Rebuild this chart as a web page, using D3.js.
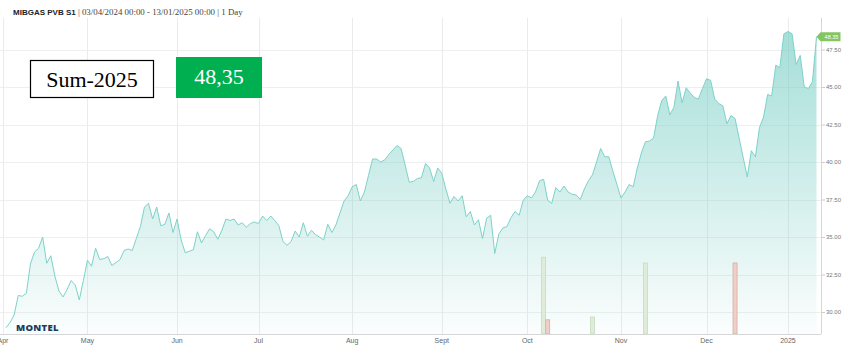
<!DOCTYPE html>
<html><head><meta charset="utf-8">
<script src="https://cdn.jsdelivr.net/npm/d3@7"></script>
<style>
html,body{margin:0;padding:0;background:#fff;overflow:hidden;}
svg{display:block;}
</style></head>
<body>
<svg id="c" width="849" height="353"></svg>
<script>
// ---------- DATA ----------
const startDate = "2024-04-03";
const endDate = "2025-01-13";
const holidays = ["2024-05-01", "2024-12-25", "2024-12-26", "2025-01-01"];
const prices = [
 28.95,29.3,29.8,31.1,31.05,31.25,33.2,34.0,34.25,35.0,
 33.25,33.75,32.4,31.4,31.0,31.5,32.1,31.8,30.8,32.1,
 33.45,33.05,34.25,33.5,33.55,33.7,33.1,33.3,33.5,34.1,
 34.2,34.1,34.9,35.7,37.0,37.25,36.2,37.0,35.75,35.85,
 36.6,35.3,36.2,34.8,33.95,34.05,34.15,35.35,34.6,35.1,
 35.55,35.35,34.85,35.45,36.2,36.1,36.2,35.8,35.95,35.65,
 35.9,36.0,35.9,36.4,36.1,36.4,36.1,35.75,34.7,34.45,
 34.7,35.4,35.0,35.95,35.05,35.45,35.15,35.0,34.8,35.85,
 35.3,35.8,36.6,37.4,37.75,38.35,38.5,37.4,38.0,39.1,
 40.2,40.2,40.0,40.15,40.5,40.8,41.1,40.9,39.8,38.65,
 38.7,38.9,38.95,39.9,39.6,38.7,39.6,39.25,38.2,37.25,
 37.7,37.4,37.75,36.35,36.7,35.8,36.15,34.9,36.25,36.45,
 33.9,35.2,35.6,35.7,36.3,36.7,36.45,37.45,37.75,37.6,
 38.0,38.75,38.85,37.45,37.25,38.3,38.0,38.4,38.0,37.85,
 37.8,37.5,38.2,38.75,39.15,40.0,40.9,40.35,40.35,39.4,
 38.5,37.6,38.0,38.5,38.35,39.6,40.6,41.35,41.4,41.6,
 43.1,44.1,44.4,43.15,43.65,45.4,43.95,44.95,44.6,44.3,
 44.2,44.9,45.55,45.45,44.2,43.9,43.75,42.55,43.1,42.9,
 41.6,40.3,39.0,40.75,40.35,42.3,43.0,44.5,44.4,46.45,
 46.3,48.55,48.7,48.55,46.5,47.1,45.0,44.9,45.35,48.35
];
const volumeDates = ["2024-10-07", "2024-10-08", "2024-10-23", "2024-11-11", "2024-12-11"];
const volumeValues = [108, 20, 24, 100, 100];
const volumeSide = ["buy", "sell", "buy", "buy", "sell"];
const monthLabels = ["Apr", "May", "Jun", "Jul", "Aug", "Sept", "Oct", "Nov", "Dec", "2025"];
const monthStarts = ["2024-04-01","2024-05-01","2024-06-01","2024-07-01","2024-08-01","2024-09-01","2024-10-01","2024-11-01","2024-12-01","2025-01-01"];
const yTicks = [30, 32.5, 35, 37.5, 40, 42.5, 45, 47.5];
const contractLabel = "Sum-2025";
const lastPriceText = "48,35";

// ---------- trading-day (ordinal) axis ----------
const fmt = d3.utcFormat("%Y-%m-%d");
const parse = d3.utcParse("%Y-%m-%d");
const tradingDays = d3.utcDays(parse(startDate), d3.utcDay.offset(parse(endDate), 1))
  .filter(d => d.getUTCDay() !== 0 && d.getUTCDay() !== 6 && !holidays.includes(fmt(d)));
const dayIndex = new Map(tradingDays.map((d, i) => [fmt(d), i]));
const data = tradingDays.map((d, i) => ({ date: d, i, v: prices[i] }));
function ordinalOf(dateStr) {
  const d = parse(dateStr);
  const idx = tradingDays.findIndex(t => t >= d);
  if (idx > 0) return idx;
  return -0.75;
}

const svg = d3.select("#c");
const plotL = 0, plotR = 821, plotT = 18, plotB = 334;
const x = d3.scaleLinear().domain([0, prices.length - 1]).range([6, 816.5]);
const y = d3.scaleLinear().domain([30, 47.5]).range([312, 49.5]);
const vol = d3.scaleLinear().domain([0, 100]).range([plotB, 263]);

const defs = svg.append("defs");
const grad = defs.append("linearGradient").attr("id", "g").attr("gradientUnits", "userSpaceOnUse")
  .attr("x1", 0).attr("x2", 0).attr("y1", plotT).attr("y2", plotB);
grad.append("stop").attr("offset", 0).attr("stop-color", "#76cdc4").attr("stop-opacity", 0.68);
grad.append("stop").attr("offset", 1).attr("stop-color", "#76cdc4").attr("stop-opacity", 0.03);

const grid = svg.append("g");
grid.selectAll("line.h").data(yTicks).join("line")
  .attr("x1", plotL).attr("x2", plotR).attr("y1", d => Math.round(y(d)) + 0.5).attr("y2", d => Math.round(y(d)) + 0.5)
  .attr("stroke", "#efefef");
const monthIdx = monthStarts.map(ordinalOf);
grid.selectAll("line.v").data(monthIdx).join("line")
  .attr("x1", d => Math.round(x(d)) + 0.5).attr("x2", d => Math.round(x(d)) + 0.5)
  .attr("y1", plotT).attr("y2", plotB).attr("stroke", "#ebebeb");

const area = d3.area().x(d => x(d.i)).y0(plotB).y1(d => y(d.v));
const line = d3.line().x(d => x(d.i)).y(d => y(d.v));
svg.append("path").datum(data).attr("d", area).attr("fill", "url(#g)");
svg.append("path").datum(data).attr("d", line).attr("fill", "none").attr("stroke", "#7dd2c9").attr("stroke-width", 1);

const volData = volumeDates.map((d, k) => ({ i: dayIndex.get(d), v: volumeValues[k], s: volumeSide[k] }));
svg.append("g").selectAll("rect").data(volData).join("rect")
  .attr("x", d => x(d.i) - 2).attr("width", 4)
  .attr("y", d => vol(d.v)).attr("height", d => plotB - vol(d.v))
  .attr("fill", d => d.s === "buy" ? "#dfecda" : "#efcfca")
  .attr("stroke", d => d.s === "buy" ? "#c6dcbe" : "#dcaaa2").attr("stroke-width", 0.8);

svg.append("line").attr("x1", 0).attr("x2", plotR).attr("y1", plotB + 0.5).attr("y2", plotB + 0.5).attr("stroke", "#d6d6d6");
svg.append("line").attr("x1", plotR + 0.5).attr("x2", plotR + 0.5).attr("y1", plotT).attr("y2", plotB).attr("stroke", "#d6d6d6");

svg.append("g").selectAll("text").data(monthLabels).join("text")
  .attr("x", (d, k) => x(monthIdx[k])).attr("y", 343)
  .attr("text-anchor", "middle").attr("font-family", "Liberation Sans, Arial, sans-serif")
  .attr("font-size", 7).attr("fill", "#666").text(d => d);

const ya = svg.append("g");
ya.selectAll("line").data(yTicks).join("line")
  .attr("x1", plotR + 1).attr("x2", plotR + 4).attr("y1", d => y(d) + 0.5).attr("y2", d => y(d) + 0.5).attr("stroke", "#ccc");
ya.selectAll("text").data(yTicks).join("text")
  .attr("x", plotR + 5).attr("y", d => y(d) + 2)
  .attr("font-family", "Liberation Sans, Arial, sans-serif").attr("font-size", 6).attr("fill", "#777")
  .text(d => d3.format(".2f")(d));

const last = data[data.length - 1];
const lx = x(last.i), ly = y(last.v);
svg.append("path")
  .attr("d", `M${lx},${ly} L${lx + 4},${ly - 4.5} L${lx + 24},${ly - 4.5} L${lx + 24},${ly + 4.5} L${lx + 4},${ly + 4.5} Z`)
  .attr("fill", "#84c562");
svg.append("text").attr("x", lx + 15).attr("y", ly + 2).attr("text-anchor", "middle")
  .attr("font-family", "Liberation Sans, Arial, sans-serif").attr("font-size", 5.5).attr("fill", "#fff")
  .text(d3.format(".2f")(last.v));

const t = svg.append("text").attr("x", 13).attr("y", 14.5).attr("font-size", 8).attr("fill", "#333");
t.append("tspan").attr("font-family", "Liberation Sans, Arial, sans-serif").attr("font-weight", "bold").attr("fill", "#222").text("MIBGAS PVB S1");
t.append("tspan").attr("font-family", "Liberation Serif, serif").attr("font-size", 8.9).attr("fill", "#444")
  .text(" | 03/04/2024 00:00 - 13/01/2025 00:00 | 1 Day");

svg.append("text").attr("x", 16).attr("y", 331).attr("font-family", "Open Sans, sans-serif")
  .attr("font-weight", 800).attr("font-size", 9.5).attr("letter-spacing", 0.3).attr("fill", "#1b3a5e").text("MONTEL");

svg.append("rect").attr("x", 30.5).attr("y", 60.5).attr("width", 123).attr("height", 37)
  .attr("fill", "#fff").attr("stroke", "#000").attr("stroke-width", 1.2);
svg.append("text").attr("x", 92).attr("y", 87).attr("text-anchor", "middle")
  .attr("font-family", "Liberation Serif, serif").attr("font-size", 22).attr("fill", "#000").text(contractLabel);
svg.append("rect").attr("x", 176).attr("y", 57).attr("width", 86).attr("height", 41).attr("fill", "#00b050");
svg.append("text").attr("x", 219).attr("y", 83.5).attr("text-anchor", "middle")
  .attr("font-family", "Liberation Serif, serif").attr("font-size", 22).attr("fill", "#fff").text(lastPriceText);
</script>
</body></html>
